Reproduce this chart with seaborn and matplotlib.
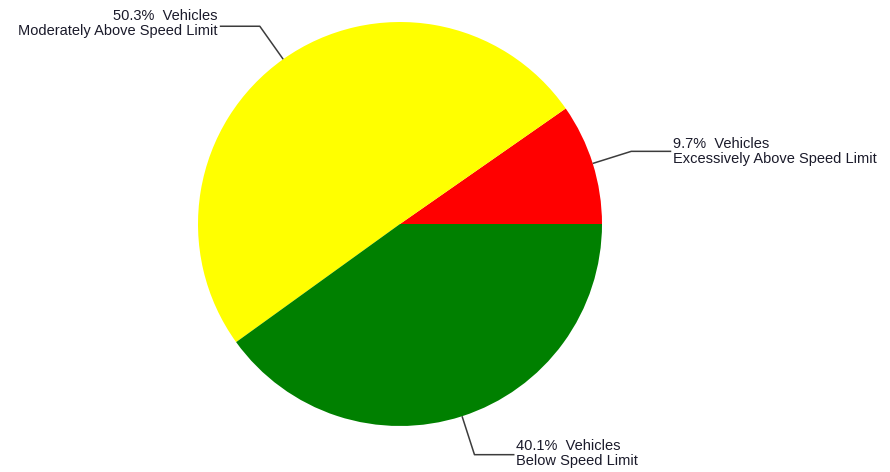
import numpy as np
import seaborn as sns
import matplotlib.pyplot as plt

labels = ["Excessively Above Speed Limit", "Moderately Above Speed Limit", "Below Speed Limit"]
percents = [9.7, 50.3, 40.1]
colors = ["#ff0000", "#ffff00", "#008000"]

sns.set_style("white")
plt.rcParams["font.family"] = ["Liberation Sans", "DejaVu Sans"]

W, H = 890, 472
fig = plt.figure(figsize=(W / 100, H / 100), dpi=100)
ax = fig.add_axes([0, 0, 1, 1])

cx, cy, r = 400, H - 224, 202
wedges, _ = ax.pie(percents, colors=colors, startangle=0, counterclock=True,
                   center=(cx, cy), radius=r, frame=True,
                   wedgeprops=dict(linewidth=0))

# label vertical shift (pixels, up) relative to elbow line
dys = [0, 3, 1]
for w, lab, p, dy in zip(wedges, labels, percents, dys):
    ang = np.deg2rad((w.theta1 + w.theta2) / 2)
    x0, y0 = cx + r * np.cos(ang), cy + r * np.sin(ang)
    x1, y1 = cx + 1.2 * r * np.cos(ang), cy + 1.2 * r * np.sin(ang)
    side = 1 if np.cos(ang) >= 0 else -1
    x2 = x1 + side * 40
    ax.plot([x0, x1, x2], [y0, y1, y1], color="#3c3c3c", lw=1.1, solid_capstyle="butt")
    ax.text(x2 + side * 2, y1 + dy, f"{p}%  Vehicles\n{lab}",
            ha="left" if side > 0 else "right", va="center",
            fontsize=10.5, color="#1a1a2a", linespacing=1.05)

ax.set_xlim(0, W)
ax.set_ylim(0, H)
ax.set_aspect("equal")
ax.axis("off")

fig.savefig("out.png", dpi=100)
